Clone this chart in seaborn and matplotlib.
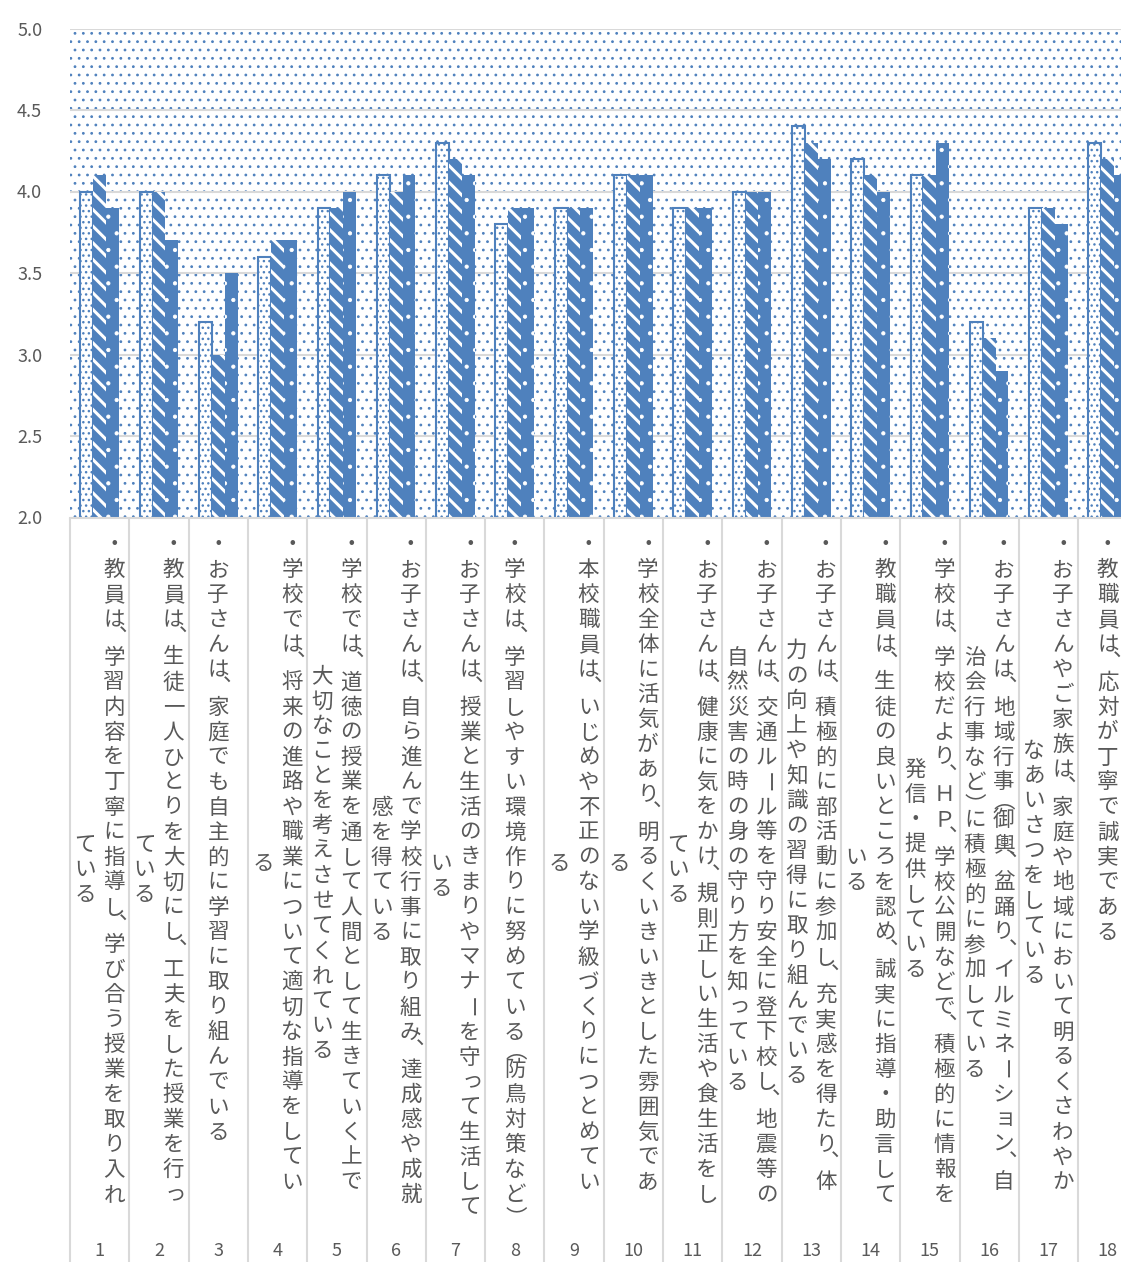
import numpy as np
import pandas as pd
import matplotlib
matplotlib.use("Agg")
import matplotlib.pyplot as plt
import seaborn as sns

# ----- データ -----
item_no = [str(i) for i in range(1, 19)]

# 設問（縦書き、\n は元の図での折り返し位置）
item_text = [
    "・教員は、学習内容を丁寧に指導し、学び合う授業を取り入れ\nている",
    "・教員は、生徒一人ひとりを大切にし、工夫をした授業を行っ\nている",
    "・お子さんは、家庭でも自主的に学習に取り組んでいる",
    "・学校では、将来の進路や職業について適切な指導をしてい\nる",
    "・学校では、道徳の授業を通して人間として生きていく上で\n大切なことを考えさせてくれている",
    "・お子さんは、自ら進んで学校行事に取り組み、達成感や成就\n感を得ている",
    "・お子さんは、授業と生活のきまりやマナーを守って生活して\nいる",
    "・学校は、学習しやすい環境作りに努めている（防鳥対策など）",
    "・本校職員は、いじめや不正のない学級づくりにつとめてい\nる",
    "・学校全体に活気があり、明るくいきいきとした雰囲気であ\nる",
    "・お子さんは、健康に気をかけ、規則正しい生活や食生活をし\nている",
    "・お子さんは、交通ルール等を守り安全に登下校し、地震等の\n自然災害の時の身の守り方を知っている",
    "・お子さんは、積極的に部活動に参加し、充実感を得たり、体\n力の向上や知識の習得に取り組んでいる",
    "・教職員は、生徒の良いところを認め、誠実に指導・助言して\nいる",
    "・学校は、学校だより、ＨＰ、学校公開などで、積極的に情報を\n発信・提供している",
    "・お子さんは、地域行事（御輿、盆踊り、イルミネーション、自\n治会行事など）に積極的に参加している",
    "・お子さんやご家族は、家庭や地域において明るくさわやか\nなあいさつをしている",
    "・教職員は、応対が丁寧で誠実である",
]

series_names = ["系列1", "系列2", "系列3"]
series1 = [4.0, 4.0, 3.2, 3.6, 3.9, 4.1, 4.3, 3.8, 3.9, 4.1, 3.9, 4.0, 4.4, 4.2, 4.1, 3.2, 3.9, 4.3]
series2 = [4.1, 4.0, 3.0, 3.7, 3.9, 4.0, 4.2, 3.9, 3.9, 4.1, 3.9, 4.0, 4.3, 4.1, 4.1, 3.1, 3.9, 4.2]
series3 = [3.9, 3.7, 3.5, 3.7, 4.0, 4.1, 4.1, 3.9, 3.9, 4.1, 3.9, 4.0, 4.2, 4.0, 4.3, 2.9, 3.8, 4.1]

df = pd.DataFrame({
    "item": item_no * 3,
    "score": series1 + series2 + series3,
    "series": np.repeat(series_names, len(item_no)),
})

BLUE = "#4F81BD"
GRAY = "#595959"
LINE = "#D9D9D9"
FONT = ["Noto Sans CJK JP", "DejaVu Sans"]

sns.set_style("white")
plt.rcParams["font.family"] = FONT
plt.rcParams["hatch.linewidth"] = 0.6


def hatch_lw(p, lw):
    # 新しい matplotlib ではパッチごとにハッチ線幅を指定できる
    if hasattr(p, "set_hatch_linewidth"):
        p.set_hatch_linewidth(lw)


W, H = 1121, 1262
fig = plt.figure(figsize=(W / 100, H / 100), dpi=100)
# 右端の系列は図の外にはみ出している（元の図と同じ）
ax = fig.add_axes([70 / W, 1 - 517.5 / H, 1067.4 / W, 489 / H])

sns.barplot(data=df, x="item", y="score", hue="series", order=item_no,
            hue_order=series_names, palette=[BLUE] * 3, saturation=1,
            width=0.65, legend=False, ax=ax)

# 系列ごとの塗りパターン
c1, c2, c3 = ax.containers
for bar in c1:
    bar.set_facecolor("white")
    bar.set_edgecolor(BLUE)
    bar.set_linewidth(1.5)
    bar.set_hatch("...")
    hatch_lw(bar, 1.0)
for bar in c2:
    bar.set_facecolor(BLUE)
    bar.set_edgecolor("white")
    bar.set_linewidth(0)
    bar.set_hatch("\\\\")
    hatch_lw(bar, 2.2)
for bar in c3:
    bar.set_facecolor(BLUE)
    bar.set_edgecolor("white")
    bar.set_linewidth(0)
    bar.set_hatch(".")
    hatch_lw(bar, 0.6)

# プロットエリアの背景（細かい点）
ax.patch.set_facecolor("white")
ax.patch.set_edgecolor(BLUE)
ax.patch.set_hatch("..")
hatch_lw(ax.patch, 0.8)

ax.set_ylim(2.0, 5.0)
ax.set_xlim(-0.5, len(item_no) - 0.5)
yt = np.arange(2.0, 5.01, 0.5)
ax.set_yticks(yt)
ax.set_yticklabels([f"{v:.1f}" for v in yt])
ax.yaxis.grid(True, color=LINE, linewidth=1.5)
ax.set_axisbelow(True)
ax.set_xlabel("")
ax.set_ylabel("")
for s in ["top", "right", "left"]:
    ax.spines[s].set_visible(False)
ax.spines["bottom"].set_color(LINE)
ax.spines["bottom"].set_linewidth(1.5)
ax.tick_params(axis="y", length=0, pad=20, labelsize=13, labelcolor=GRAY)
ax.tick_params(axis="x", length=0, pad=522, labelsize=13, labelcolor=GRAY)

# 項目の区切り線（軸の下に伸びる）
ax.vlines(np.arange(-0.5, len(item_no), 1), -745 / 489, 0,
          transform=ax.get_xaxis_transform(), color=LINE, linewidth=1.5,
          clip_on=False)

# ----- 縦書きラベル -----
PITCH = 25.0
SMALL = 12.5   # 読点・括弧の送り
TOP = 532.5
COL_GAP = 29.0
FS = 15.5
VERT = {"（": "︵", "）": "︶"}


def col_len(s):
    return sum(SMALL if ch in "、（）" else PITCH for ch in s)


def put(xp, yp, ch, **kw):
    fig.text(xp / W, 1 - yp / H, ch, color=GRAY, fontsize=FS, family=FONT, **kw)


for i, label in enumerate(item_text):
    cx = ax.transData.transform((i, 2.0))[0]
    cols = label.split("\n")
    block = max(col_len(c) for c in cols)
    for j, col in enumerate(cols):
        x = cx + ((len(cols) - 1) / 2 - j) * COL_GAP
        cur = TOP + (block - col_len(col)) / 2 + PITCH / 2
        for ch in col:
            if ch == "、":
                put(x + 5, cur - 13, ch, ha="left", va="baseline")
                cur += SMALL
            elif ch == "（":
                put(x + 1, cur - 6, VERT[ch], ha="center", va="center")
                cur += SMALL
            elif ch == "）":
                put(x + 1, cur - 2, VERT[ch], ha="center", va="center")
                cur += SMALL
            elif ch == "ー":
                put(x, cur, ch, ha="center", va="center", rotation=-90,
                    rotation_mode="anchor")
                cur += PITCH
            elif ch in "っゃゅょッャュョ":
                put(x + 2, cur - 2, ch, ha="center", va="center")
                cur += PITCH
            else:
                put(x, cur, ch, ha="center", va="center")
                cur += PITCH

fig.savefig("out.png", dpi=100)
